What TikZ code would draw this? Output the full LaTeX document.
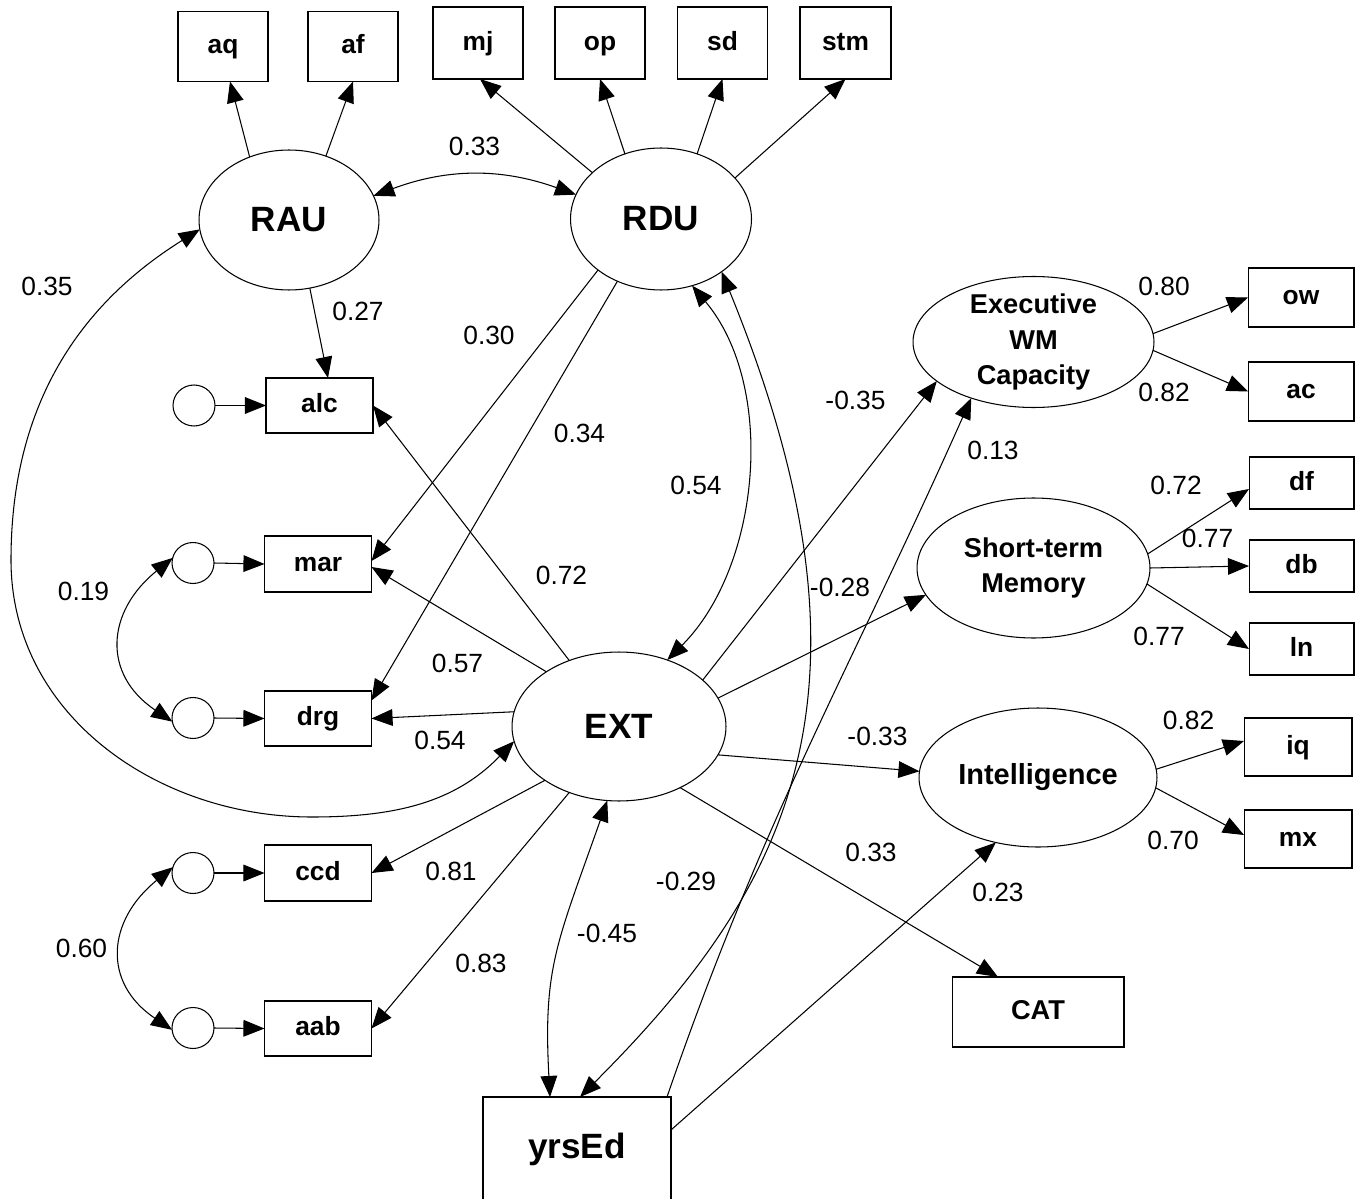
\documentclass[tikz,border=0pt]{standalone}
\usepackage{fontspec}
\setmainfont{Liberation Sans}
\usetikzlibrary{shapes.geometric,arrows.meta,calc}
\begin{document}
\begin{tikzpicture}[x=0.02cm,y=-0.02cm,
  every node/.style={inner sep=0pt, outer sep=0pt},
  obs/.style={draw, line width=0.6pt, rectangle, font=\fontsize{15}{18}\selectfont\bfseries,
    text height=11.5pt, text depth=3pt},
  bigobs/.style={obs, font=\fontsize{20}{24}\selectfont\bfseries, text height=14.5pt, text depth=4.3pt},
  lat/.style={draw, line width=0.6pt, ellipse},
  biglat/.style={lat, font=\fontsize{20}{24}\selectfont\bfseries},
  lattext/.style={font=\fontsize{15.5}{20}\selectfont\bfseries, align=center},
  err/.style={draw, line width=0.6pt, ellipse, minimum width=0.84cm, minimum height=0.82cm},
  con/.style={line width=0.6pt, -{Triangle[length=12pt,width=9.5pt]}},
  cov/.style={line width=0.6pt, {Triangle[length=12pt,width=9.5pt]}-{Triangle[length=12pt,width=9.5pt]}},
  coef/.style={font=\fontsize{15}{18}\selectfont},
]
\useasboundingbox (0,0) rectangle (1362,1199);

% indicators (top)
\node[obs, minimum width=1.8cm, minimum height=1.4cm] (aq) at (223,46.5) {aq};
\node[obs, minimum width=1.8cm, minimum height=1.4cm] (af) at (353,46.5) {af};
\node[obs, minimum width=1.8cm, minimum height=1.44cm] (mj) at (478,43) {mj};
\node[obs, minimum width=1.8cm, minimum height=1.44cm] (op) at (600,43) {op};
\node[obs, minimum width=1.8cm, minimum height=1.44cm] (sd) at (722.5,43) {sd};
\node[obs, minimum width=1.82cm, minimum height=1.44cm] (stm) at (845.5,43) {stm};

% latent variables
\node[biglat, minimum width=3.6cm, minimum height=2.8cm] (RAU) at (289,220) {RAU};
\node[biglat, minimum width=3.62cm, minimum height=2.84cm] (RDU) at (661,219) {RDU};
\node[biglat, minimum width=4.28cm, minimum height=2.98cm] (EXT) at (619,726.5) {EXT};
\node[lat, minimum width=4.82cm, minimum height=2.62cm,
  label={[lattext]center:Executive\\WM\\Capacity}] (EWM) at (1033.5,342) {};
\node[lat, minimum width=4.66cm, minimum height=2.8cm,
  label={[lattext]center:Short-term\\Memory}] (STM) at (1033.5,568) {};
\node[lat, minimum width=4.76cm, minimum height=2.78cm,
  font=\fontsize{16.5}{20}\selectfont\bfseries] (INT) at (1038,777.5) {Intelligence};

% left observed variables and errors
\node[obs, minimum width=2.14cm, minimum height=1.1cm] (alc) at (319.5,405.5) {alc};
\node[obs, minimum width=2.14cm, minimum height=1.12cm] (mar) at (318,564) {mar};
\node[obs, minimum width=2.14cm, minimum height=1.1cm] (drg) at (318,718.5) {drg};
\node[obs, minimum width=2.14cm, minimum height=1.12cm] (ccd) at (318,873) {ccd};
\node[obs, minimum width=2.14cm, minimum height=1.1cm] (aab) at (318,1028.5) {aab};
\node[err] (e1) at (194,405.5) {};
\node[err] (e2) at (193,563) {};
\node[err] (e3) at (193,718) {};
\node[err] (e4) at (193,873) {};
\node[err] (e5) at (193,1028) {};

% bottom observed
\node[bigobs, minimum width=3.76cm, minimum height=2.12cm] (yrsEd) at (577,1150) {yrsEd};
\node[obs, minimum width=3.44cm, minimum height=1.4cm, font=\fontsize{15.5}{18}\selectfont\bfseries] (CAT) at (1038,1012) {CAT};

% right indicators
\node[obs, minimum width=2.12cm, minimum height=1.18cm] (ow) at (1301,297.5) {ow};
\node[obs, minimum width=2.12cm, minimum height=1.18cm] (ac) at (1301,391.5) {ac};
\node[obs, minimum width=2.1cm, minimum height=1.04cm] (df) at (1301.5,483) {df};
\node[obs, minimum width=2.1cm, minimum height=1.04cm] (db) at (1301.5,566) {db};
\node[obs, minimum width=2.1cm, minimum height=1.04cm] (ln) at (1301.5,649) {ln};
\node[obs, minimum width=2.16cm, minimum height=1.16cm] (iq) at (1298,747) {iq};
\node[obs, minimum width=2.16cm, minimum height=1.16cm] (mx) at (1298,839) {mx};

% loadings top
\draw[con] (RAU.122.9) -- ($(aq.south)+(7,0)$);
\draw[con] (RAU.60.4) -- (af.south);
\draw[con] (RDU.146.7) -- ($(mj.south)+(2,0)$);
\draw[con] (RDU.119.4) -- (op.south);
\draw[con] (RDU.61) -- (sd.south);
\draw[con] (RDU.29.2) -- (stm.south);
\draw[cov] (RAU.16.6) to[bend left=20] (RDU.164.2);

% paths to left variables
\draw[con] (RAU.287.4) -- ($(alc.north)+(8.5,0)$);
\draw[con] (e1.east) -- (alc.west);
\draw[con] (e2.east) -- (mar.west);
\draw[con] (e3.east) -- (drg.west);
\draw[con] (e4.east) -- (ccd.west);
\draw[con] (e5.east) -- (aab.west);
\draw[cov] (e2.166.6) to[out=219,in=146,looseness=1.33] (e3.190.8);
\draw[cov] (e4.164) to[out=219,in=146,looseness=1.33] (e5.185);
\draw[con] (RDU.219.6) -- ($(mar.east)+(0,-3)$);
\draw[con] (RDU.235.5) -- ($(drg.east)+(0,-18)$);
\draw[con] (EXT.127.5) -- (alc.east);
\draw[con] (EXT.143) -- ($(mar.east)+(0,3)$);
\draw[con] (EXT.172.8) -- (drg.east);
\draw[con] (EXT.216.9) -- (ccd.east);
\draw[con] (EXT.233.1) -- (aab.east);

% covariances
\draw[cov] (RAU.186.3) to[out=212,in=90] (11,560) to[out=270,in=180] (312,817) to[out=0,in=226] (EXT.188.8);
\draw[cov] (RDU.295.2) to[out=-50,in=45,looseness=0.9] (EXT.54.4);
\draw[cov] (RDU.319.5) .. controls (892,689) and (792,885) .. ($(yrsEd.north)+(3,0)$);
\draw[cov] (EXT.261.7) .. controls (557,943) and (543,967) .. ($(yrsEd.north)+(-27,0)$);

% paths to right
\draw[con] (EXT.29.6) -- (EWM.202.1);
\draw[con] (EXT.16.3) -- (STM.194);
\draw[con] (EXT.344.8) -- (INT.177.4);
\draw[con] (EXT.315.2) -- ($(CAT.north)+(-40,0)$);
\draw[con] ($(yrsEd.north east)+(-4,0)$) to[out=71,in=246] (EWM.222.4);
\draw[con] ($(yrsEd.east)+(0,-20)$) -- (INT.237.3);

\draw[con] (EWM.4.4) -- (ow.west);
\draw[con] (EWM.356.1) -- (ac.west);
\draw[con] (STM.7.8) -- ($(df.west)+(0,6)$);
\draw[con] (STM.0) -- (db.west);
\draw[con] (STM.352.2) -- (ln.west);
\draw[con] (INT.4.7) -- ($(iq.west)+(0,-6)$);
\draw[con] (INT.355.3) -- ($(mx.west)+(0,-4)$);

% coefficients
\node[coef] (l1) at (474.5,146.5) {0.33};
\node[coef] (l2) at (47,286.5) {0.35};
\node[coef] (l3) at (358,311.5) {0.27};
\node[coef] (l4) at (489,335) {0.30};
\node[coef] (l5) at (579.5,433.5) {0.34};
\node[coef] (l6) at (696,485) {0.54};
\node[coef] (l7) at (561.5,575) {0.72};
\node[coef] (l8) at (83.5,591.5) {0.19};
\node[coef] (l9) at (457.5,663) {0.57};
\node[coef] (l10) at (440,740.5) {0.54};
\node[coef] (l11) at (451,871.5) {0.81};
\node[coef] (l12) at (81.5,948) {0.60};
\node[coef] (l13) at (481,963) {0.83};
\node[coef] (l14) at (607,933) {-0.45};
\node[coef] (l15) at (686,881) {-0.29};
\node[coef] (l16) at (855.5,400) {-0.35};
\node[coef] (l17) at (993,450) {0.13};
\node[coef] (l18) at (840,587) {-0.28};
\node[coef] (l19) at (877.5,736) {-0.33};
\node[coef] (l20) at (871,852) {0.33};
\node[coef] (l21) at (998,892) {0.23};
\node[coef] (l22) at (1164,286.5) {0.80};
\node[coef] (l23) at (1164,392.5) {0.82};
\node[coef] (l24) at (1176,485) {0.72};
\node[coef] (l25) at (1207.5,538) {0.77};
\node[coef] (l26) at (1159,636.5) {0.77};
\node[coef] (l27) at (1188.5,720) {0.82};
\node[coef] (l28) at (1173,840) {0.70};
\end{tikzpicture}
\end{document}
